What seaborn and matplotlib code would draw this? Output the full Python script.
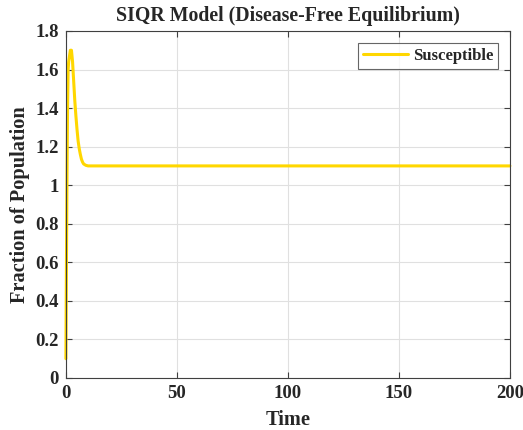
import matplotlib
matplotlib.use("Agg")
import matplotlib.pyplot as plt
import seaborn as sns
import pandas as pd

time = [0, 0.25, 0.5, 0.75, 1.0, 1.25, 1.5, 2.0, 2.5, 3.0, 3.5, 4.0, 4.5, 5.0,
        5.5, 6.0, 6.5, 7.0, 7.5, 8.0, 9.0, 10.0, 12.0, 200.0]
susceptible = [0.1, 0.6, 1.05, 1.4, 1.6, 1.64, 1.66, 1.70, 1.70, 1.64, 1.54, 1.44,
               1.36, 1.29, 1.23, 1.19, 1.16, 1.135, 1.12, 1.11, 1.103, 1.1, 1.1, 1.1]
xticks = [0, 50, 100, 150, 200]
yticks = [0, 0.2, 0.4, 0.6, 0.8, 1, 1.2, 1.4, 1.6, 1.8]
yticklabels = ["0", "0.2", "0.4", "0.6", "0.8", "1", "1.2", "1.4", "1.6", "1.8"]

sns.set_style("white")
plt.rcParams['font.family'] = ['Liberation Serif', 'DejaVu Serif']
plt.rcParams['font.weight'] = 'bold'

df = pd.DataFrame({"Time": time, "Susceptible": susceptible})

fig = plt.figure(figsize=(5.23, 4.30), dpi=100)
ax = fig.add_axes([0.126, 0.121, 0.849, 0.807])
sns.lineplot(data=df, x="Time", y="Susceptible", ax=ax, color="#FFD700",
             linewidth=2.2, label="Susceptible", clip_on=False)

ax.set_xlim(0, 200)
ax.set_ylim(0, 1.8)
ax.set_xticks(xticks)
ax.set_yticks(yticks)
ax.set_yticklabels(yticklabels)
ax.grid(True, color="#e0e0e0", linewidth=0.8)
ax.set_axisbelow(True)
for s in ax.spines.values():
    s.set_color("#404040")
    s.set_linewidth(0.8)
ax.tick_params(direction="in", length=4, color="#404040", labelsize=13.5,
               labelcolor="#262626", top=True, right=True, left=True, bottom=True,
               labeltop=False, labelright=False, pad=5)
for lab in ax.get_xticklabels() + ax.get_yticklabels():
    lab.set_fontweight("bold")
ax.set_xlabel("Time", fontsize=14.7, fontweight="bold", color="#262626", labelpad=6)
ax.set_ylabel("Fraction of Population", fontsize=14.7, fontweight="bold",
              color="#262626", labelpad=4)
ax.set_title("SIQR Model (Disease-Free Equilibrium)", fontsize=14.3, fontweight="bold",
             color="#262626", pad=7)
leg = ax.legend(loc="upper right", fontsize=12, frameon=True, fancybox=False,
                edgecolor="#404040", handlelength=2.7, handletextpad=0.3,
                borderpad=0.3, borderaxespad=0.7)
for t in leg.get_texts():
    t.set_fontweight("bold")
leg.get_frame().set_linewidth(0.8)

fig.savefig("out.png", dpi=100)
